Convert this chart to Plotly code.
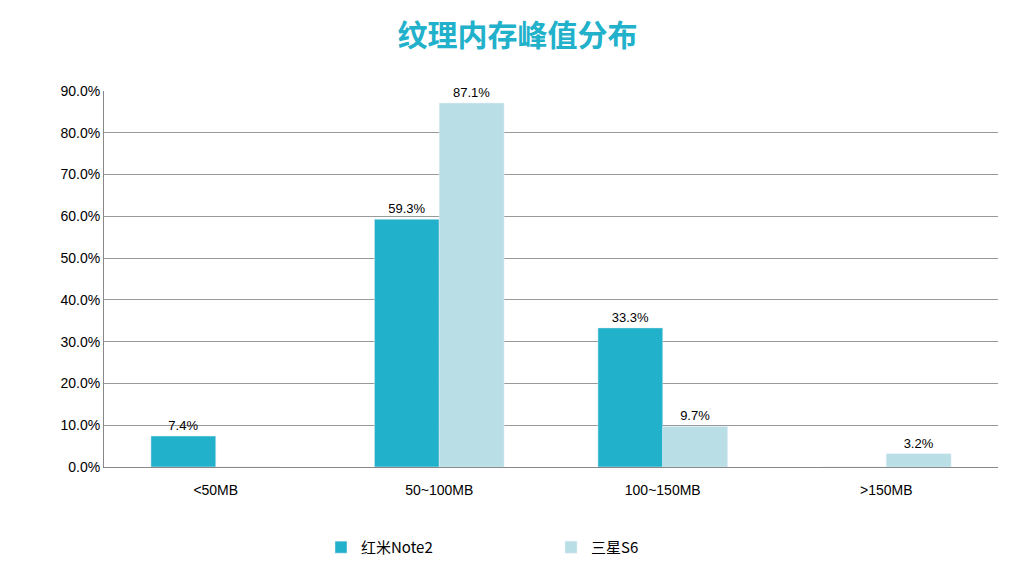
import plotly.graph_objects as go

categories = ['<50MB', '50~100MB', '100~150MB', '>150MB']
redmi = [7.4, 59.3, 33.3, 0]
samsung = [0, 87.1, 9.7, 3.2]

def labels(vals):
    return [f'{v:.1f}%' if v > 0 else '' for v in vals]

fig = go.Figure()
fig.add_trace(go.Bar(x=categories, y=redmi, name='红米Note2', marker_color='#21B1CA',
                     text=labels(redmi), textposition='outside', cliponaxis=False))
fig.add_trace(go.Bar(x=categories, y=samsung, name='三星S6', marker_color='#B9DEE6',
                     text=labels(samsung), textposition='outside', cliponaxis=False))

fig.update_layout(
    width=1019, height=568,
    title=dict(text='<b>纹理内存峰值分布</b>', x=0.5, y=0.97, xanchor='center', yanchor='top',
               font=dict(size=30, color='#21B1CA', family='Noto Sans CJK SC')),
    font=dict(family='Liberation Sans, Noto Sans CJK SC, sans-serif', size=14, color='#000'),
    paper_bgcolor='white', plot_bgcolor='white',
    barmode='group', bargap=0.42, bargroupgap=0,
    margin=dict(l=96, r=29, t=83, b=98),
    xaxis=dict(showline=True, linecolor='#888', ticks='outside', ticklen=10, tickcolor='white',
               tickfont=dict(size=14)),
    yaxis=dict(range=[0, 90], dtick=10, ticksuffix='.0%', showline=True, linecolor='#888',
               gridcolor='#999', gridwidth=1, tickfont=dict(size=14), zeroline=False),
    legend=dict(orientation='h', x=0.5, xanchor='center', y=-0.17, yanchor='top',
                font=dict(size=15, family='Noto Sans CJK SC'), entrywidth=185, tracegroupgap=0),
)
fig.update_traces(textfont=dict(size=13, color='#000'))

fig.write_html("out.html")
